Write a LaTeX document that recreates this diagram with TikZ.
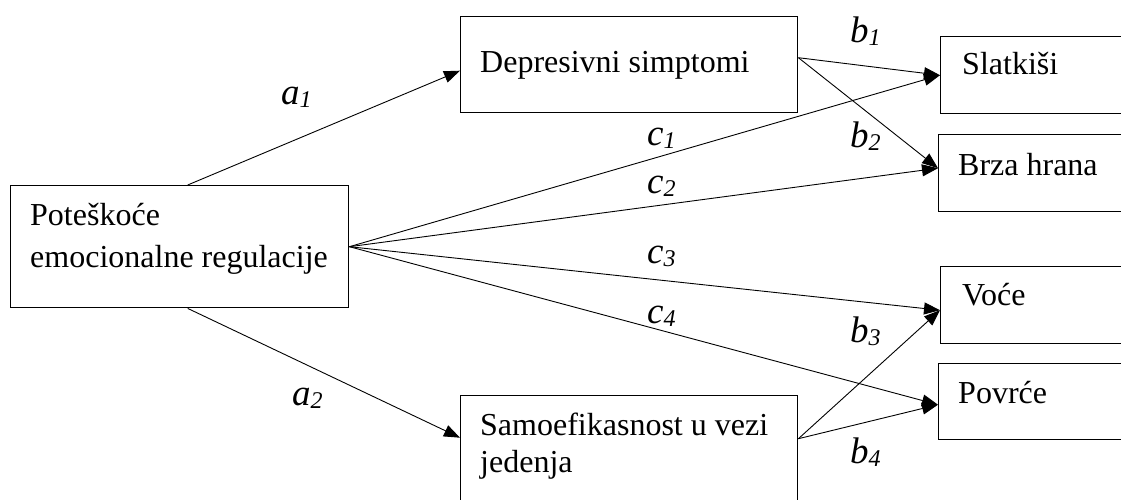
\documentclass[tikz,border=0pt]{standalone}
\usepackage{fontspec}
\setmainfont{Liberation Serif}
\usetikzlibrary{arrows.meta,calc}
\tikzset{
  box/.style={draw, line width=1.4pt, anchor=north west, inner sep=0pt},
  txt/.style={anchor=base west, inner sep=0pt, font=\fontsize{32}{42}\selectfont},
  lab/.style={anchor=base west, inner sep=0pt, font=\fontsize{37}{37}\selectfont\itshape},
  conn/.style={line width=0.9pt, -{Triangle[length=16pt,width=12pt]}},
}
\newcommand{\lb}[2]{#1\raisebox{-3pt}{\fontsize{24}{24}\selectfont\itshape #2}}
\begin{document}
\begin{tikzpicture}[x=1pt,y=-1pt]
\useasboundingbox (0,0) rectangle (1121,500);
\clip (0,0) rectangle (1121,500);
% boxes
\node[box, minimum width=338pt, minimum height=122pt] (pot) at (10,185) {};
\node[box, minimum width=337pt, minimum height=96pt] (dep) at (460,16) {};
\node[box, minimum width=337pt, minimum height=130pt] (sam) at (460,395) {};
\node[box, minimum width=200pt, minimum height=77pt] (sla) at (940,36) {};
\node[box, minimum width=200pt, minimum height=77pt] (brz) at (938,134) {};
\node[box, minimum width=200pt, minimum height=77pt] (voc) at (940,266) {};
\node[box, minimum width=200pt, minimum height=76pt] (pov) at (938,363) {};
% texts
\node[txt] (t1) at (30,225) {Poteškoće};
\node[txt] (t2) at (30,267) {emocionalne regulacije};
\node[txt] (t3) at (480,73) {Depresivni simptomi};
\node[txt] (t4) at (480,435) {Samoefikasnost u vezi};
\node[txt] (t5) at (480,472) {jedenja};
\node[txt] (t6) at (962,75) {Slatkiši};
\node[txt] (t7) at (958,175) {Brza hrana};
\node[txt] (t8) at (962,305) {Voće};
\node[txt] (t9) at (958,403) {Povrće};
% connectors
\coordinate (potN) at ($(pot.north)+(8,0)$);
\coordinate (potS) at ($(pot.south)+(8,0)$);
\coordinate (depW) at ($(dep.west)+(0,6)$);
\coordinate (depE) at ($(dep.east)+(0,-7)$);
\coordinate (samW) at ($(sam.west)+(0,-23)$);
\coordinate (samE) at ($(sam.east)+(0,-22)$);
\coordinate (slaW) at ($(sla.west)+(0,0)$);
\coordinate (brzW) at ($(brz.west)+(0,-5)$);
\coordinate (vocW) at ($(voc.west)+(0,5)$);
\coordinate (povW) at ($(pov.west)+(0,3)$);
\draw[conn] (potN) -- (depW);
\draw[conn] (potS) -- (samW);
\draw[conn] (depE) -- (slaW);
\draw[conn] (depE) -- (brzW);
\draw[conn] (pot.east) -- (slaW);
\draw[conn] (pot.east) -- (brzW);
\draw[conn] (pot.east) -- (vocW);
\draw[conn] (pot.east) -- (povW);
\draw[conn] (samE) -- (vocW);
\draw[conn] (samE) -- (povW);
% labels
\node[lab] (la1) at (281,105) {\lb{a}{1}};
\node[lab] (la2) at (292,405) {\lb{a}{2}};
\node[lab] (lb1) at (850,43) {\lb{b}{1}};
\node[lab] (lb2) at (850,147) {\lb{b}{2}};
\node[lab] (lb3) at (850,342) {\lb{b}{3}};
\node[lab] (lb4) at (850,463) {\lb{b}{4}};
\node[lab] (lc1) at (647,146) {\lb{c}{1}};
\node[lab] (lc2) at (647,193) {\lb{c}{2}};
\node[lab] (lc3) at (647,263) {\lb{c}{3}};
\node[lab] (lc4) at (647,323) {\lb{c}{4}};
\end{tikzpicture}
\end{document}
